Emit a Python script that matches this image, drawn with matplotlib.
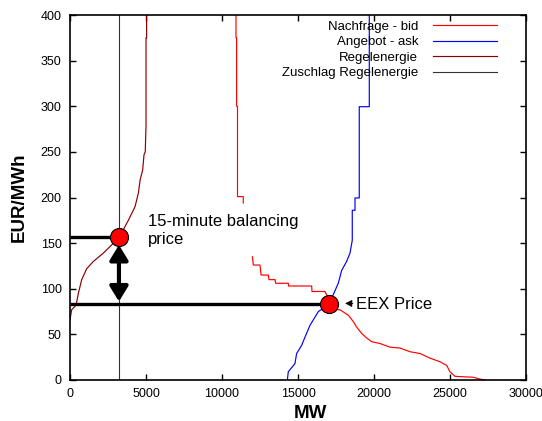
import numpy as np
import matplotlib
matplotlib.use("Agg")
import matplotlib.pyplot as plt

plt.rcParams['font.family'] = ['Liberation Sans', 'DejaVu Sans']

# demand curve (Nachfrage - bid), MW / EUR per MWh, nan = gap in the curve
bid_mw = [10920, 10920, 10960, 10960, 11020, 11020, 11400, 11400, np.nan,
          12000, 12060, 12500, 12570, 13050, 13090, 13490, 13530, 14360, 14380,
          15900, 15920, 16780, 16890, 17040, 17650, 17760, 18310, 18640, 18860,
          19190, 19520, 19850, 20390, 21050, 21710, 22370, 23030, 23680, 24340,
          24780, 25000, 25330, 26530, 26970, 27300]
bid_eur = [400, 375, 375, 300, 300, 201, 201, 194, np.nan,
           135, 126, 126, 115, 115, 110, 110, 106, 106, 103,
           103, 97, 97, 93, 83, 77, 77, 71, 64, 58,
           51, 46, 42, 40, 36, 35, 31, 29, 24, 20,
           16, 9, 4, 3, 1, 0]

# supply curve (Angebot - ask)
ask_mw = [14300, 14360, 14800, 14910, 15240, 15460, 15790, 16120, 16340,
          17040, 17650, 17870, 18200, 18420, 18570, 18570, 18750, 18750,
          19030, 19030, 19690, 19690]
ask_eur = [0, 9, 18, 29, 38, 47, 60, 69, 75,
           83, 106, 120, 130, 139, 153, 186, 186, 199.5,
           199.5, 299.5, 299.5, 400]

# balancing energy curve (Regelenergie)
reg_mw = [0, 110, 400, 550, 770, 1100, 1540, 2190, 2740, 3220, 3840, 4280,
          4500, 4610, 4780, 4870, 4950, 5000, 5000, 5040, 5040]
reg_eur = [66, 77, 82, 95, 110, 122, 130, 139, 148, 156, 175, 190,
           205, 219, 230, 247, 250, 278, 375, 375, 400]

# accepted balancing energy and prices
zuschlag_mw = 3220
balancing_price = 157
eex_mw = 17040
eex_price = 83

fig = plt.figure(figsize=(5.42, 4.21), dpi=100)
ax = fig.add_axes([70 / 542, 1 - 380 / 421, 456 / 542, 365 / 421])

ax.plot(bid_mw, bid_eur, color='#ff0000', lw=0.85, label='Nachfrage - bid')
ax.plot(ask_mw, ask_eur, color='#0000ff', lw=0.85, label='Angebot - ask')
ax.plot(reg_mw, reg_eur, color='#8b0000', lw=0.85, label='Regelenergie')
ax.axvline(zuschlag_mw, color='#333333', lw=0.8, label='Zuschlag Regelenergie')

# price lines
ax.plot([0, zuschlag_mw], [balancing_price, balancing_price], color='black', lw=2.4,
        solid_capstyle='butt')
ax.plot([0, eex_mw], [eex_price, eex_price], color='black', lw=2.4,
        solid_capstyle='butt')

# double arrow between the two prices
ax.annotate('', xy=(zuschlag_mw, eex_price + 3), xytext=(zuschlag_mw, balancing_price - 9),
            arrowprops=dict(arrowstyle='<|-|>,head_length=0.9,head_width=0.55',
                            color='black', lw=3, shrinkA=0, shrinkB=0))

ax.plot([zuschlag_mw], [balancing_price], 'o', ms=13, mfc='#ff0000', mec='black',
        mew=0.8, zorder=5)
ax.plot([eex_mw], [eex_price], 'o', ms=13, mfc='#ff0000', mec='black',
        mew=0.8, zorder=5)

ax.text(5130, 164, '15-minute balancing\nprice', fontsize=12, ha='left', va='center',
        linespacing=1.25)
ax.annotate('EEX Price', xy=(18100, eex_price + 1), xytext=(18800, eex_price),
            fontsize=12, ha='left', va='center',
            arrowprops=dict(arrowstyle='-|>,head_length=0.35,head_width=0.18',
                            color='black', lw=0.6, shrinkA=0, shrinkB=0))

ax.set_xlim(0, 30000)
ax.set_ylim(0, 400)
ax.set_xticks(np.arange(0, 30001, 5000))
ax.set_yticks(np.arange(0, 401, 50))
ax.tick_params(direction='in', top=True, right=True, labelsize=9, length=4,
               width=1, pad=6)
for s in ax.spines.values():
    s.set_linewidth(1.2)

ax.set_xlabel('MW', fontsize=13.5, fontweight='bold')
ax.xaxis.set_label_coords((310 - 70) / 456, -25 / 365)
ax.set_ylabel('EUR/MWh', fontsize=13.5, fontweight='bold')
ax.yaxis.set_label_coords(-42 / 456, 0.5)

ax.legend(loc='upper right', bbox_to_anchor=(0.937, 0.984), frameon=False,
          markerfirst=False, fontsize=9.5, handlelength=4.9, handletextpad=1.1,
          labelspacing=0.24, borderpad=0, borderaxespad=0)

fig.savefig('out.png', dpi=100)
